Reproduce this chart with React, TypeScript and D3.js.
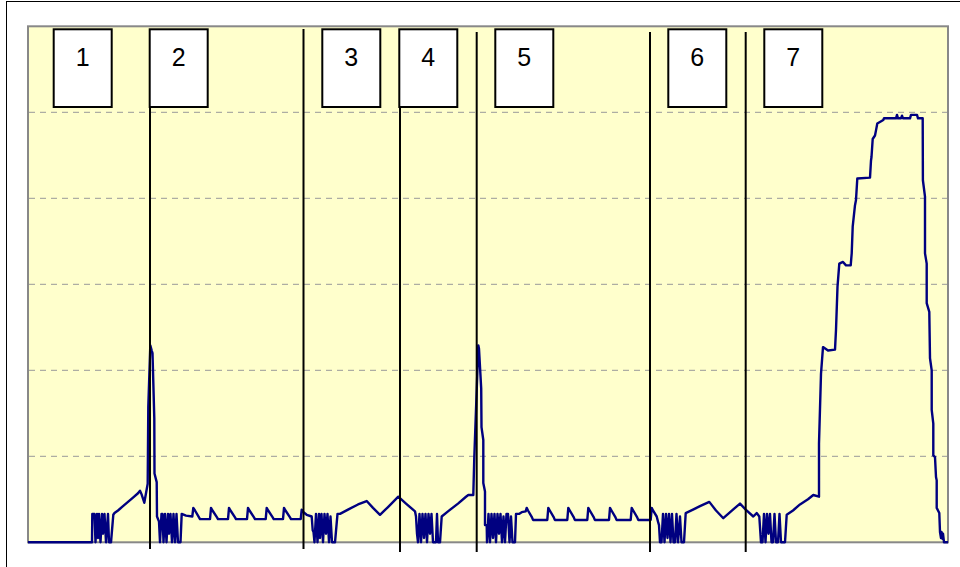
import React from "react";
import * as d3 from "d3";

// time (s) , value (grid units)
const startAndFirstPeak: [number, number][] = [
  [0, 0], [64, 0], [64.3, 0.33], [66.5, 0.33], [67.5, 0], [69, 0.33], [70, 0.05], [71, 0.33], [72.5, 0],
  [74, 0.33], [75, 0.1], [76.5, 0.33], [78, 0], [80, 0.33], [81, 0], [83, 0], [85.3, 0.32],
  [86.5, 0.34], [90, 0.37], [95, 0.42], [100, 0.47], [105, 0.52], [110, 0.57], [112, 0.6], [113.5, 0.56],
  [116.3, 0.46], [119.7, 0.68], [120.3, 1.58], [122.3, 2.29], [123.7, 2.23], [124.5, 2.2], [126.3, 1.44],
  [126.5, 0.8], [128.7, 0.7], [129, 0.3], [131, 0.24],
];

const phase2Data: [number, number][] = [
  [132, 0], [133.5, 0.33], [134.5, 0.33], [135.5, 0], [137, 0.33], [138.5, 0], [140, 0.33], [141, 0.1],
  [142.5, 0.33], [144, 0], [145.5, 0.33], [147, 0], [148.5, 0.33], [150, 0], [152.5, 0], [153.7, 0.33],
  [158, 0.31], [164.3, 0.3], [165.3, 0.4], [167, 0.37], [171, 0.29], [172, 0.27], [182, 0.27], [183, 0.4],
  [184.5, 0.37], [189, 0.29], [190, 0.27], [200, 0.27], [201, 0.4], [202.5, 0.37], [207, 0.29], [208, 0.27],
  [219, 0.27], [220, 0.4], [221.5, 0.37], [226, 0.29], [227, 0.27], [237.7, 0.27], [238.7, 0.4], [240.2, 0.37],
  [244.7, 0.29], [245.7, 0.27], [255, 0.27], [256, 0.4], [257.5, 0.37], [262, 0.29], [263, 0.27], [272.7, 0.27],
  [273.7, 0.38], [275.5, 0.35], [278.7, 0.32], [283.7, 0.3], [284.7, 0.14],
];

const phase3and4Data: [number, number][] = [
  [285.5, 0.12], [286.5, 0], [288, 0.33], [289.5, 0], [291, 0.33], [292, 0.05], [293.5, 0.33], [295, 0],
  [296.5, 0.33], [298, 0.1], [299.5, 0.33], [301, 0], [302.5, 0.3], [304, 0], [307, 0], [309.5, 0.33],
  [312, 0.33],
  [320, 0.38], [330, 0.44], [338.7, 0.48], [345, 0.4], [352, 0.32], [360, 0.41], [370.3, 0.53], [378, 0.45],
  [387, 0.36],
  [388, 0.3], [389, 0.1], [390, 0], [391.5, 0.33], [393, 0], [394.5, 0.33], [396, 0.05], [397.5, 0.33],
  [399, 0], [400.5, 0.33], [402, 0.1], [403.5, 0.33], [405, 0], [408, 0], [409, 0.33], [410, 0], [412, 0],
  [413.7, 0.3],
  [420, 0.36], [430, 0.45], [438, 0.53], [440.3, 0.55], [445.3, 0.55], [446.3, 0.99], [450.3, 2.29],
  [451, 2.25], [453.2, 1.79], [453.5, 1.34], [455.3, 1.19], [455.3, 0.69], [457, 0.59], [457, 0.2], [458.7, 0.2],
];

const phase5Data: [number, number][] = [
  [459, 0], [460.5, 0.33], [462, 0], [463.5, 0.33], [465, 0.05], [466.5, 0.33], [468, 0], [469.5, 0.33],
  [471, 0.1], [472.5, 0.33], [474, 0], [475.5, 0.3], [477, 0], [478.5, 0.33], [480, 0.33], [481.5, 0],
  [483, 0.3], [484.5, 0], [487, 0], [488, 0.33], [491, 0.33], [493.7, 0.35],
  [497.7, 0.36], [498.7, 0.4], [500, 0.37], [504, 0.29], [505, 0.26], [519.3, 0.26], [520.3, 0.4], [521.8, 0.37],
  [525.8, 0.29], [526.8, 0.26], [539.3, 0.26], [540.3, 0.4], [541.8, 0.37], [545.8, 0.29], [546.8, 0.26],
  [559.3, 0.26], [560.3, 0.4], [561.8, 0.37], [565.8, 0.29], [566.8, 0.26], [581, 0.26], [582, 0.4],
  [583.5, 0.37], [587.5, 0.29], [588.5, 0.26], [602.7, 0.26], [603.7, 0.4], [605.2, 0.37], [609.2, 0.29],
  [610.2, 0.26], [622.7, 0.26], [623.7, 0.4], [625, 0.37], [628.7, 0.3], [630, 0.24],
];

const phase6and7Data: [number, number][] = [
  [631, 0.2], [632, 0], [633.5, 0], [635, 0.33], [636.5, 0], [638, 0.33], [639.5, 0.05], [641, 0.33],
  [642.5, 0], [644, 0.33], [645.5, 0], [647, 0], [648.5, 0.33], [650, 0], [652, 0.3], [653.5, 0], [656, 0],
  [657.7, 0.34],
  [665, 0.38], [672, 0.42], [681.3, 0.47], [688, 0.37], [695.3, 0.28], [703, 0.36], [712, 0.45],
  [717.7, 0.38], [725.3, 0.3], [728.7, 0.34], [731.3, 0.3],
  [733, 0], [734.5, 0], [736, 0.33], [737.5, 0], [739, 0.33], [740.5, 0.1], [742, 0.33], [743.5, 0],
  [745, 0], [746.5, 0.33], [748, 0], [750, 0], [751.5, 0.33], [753, 0], [757, 0], [758.7, 0.32],
  [765, 0.37], [772, 0.44], [780, 0.5], [785.3, 0.55], [791, 0.53], [791, 1.15], [793, 1.96], [795, 2.27],
  [800, 2.23], [807, 2.24], [808, 2.47], [809.5, 2.97], [811.3, 3.24], [815, 3.26], [818, 3.22],
  [822.7, 3.22], [823.7, 3.36], [824.7, 3.67], [827, 3.92], [828, 3.98], [829.3, 4.23], [842, 4.24],
  [843, 4.44], [843.5, 4.48], [844.7, 4.69], [847, 4.73], [848, 4.79], [849.3, 4.87], [855.3, 4.91],
  [856, 4.93], [868, 4.93], [869, 4.97], [870, 4.93], [873, 4.93], [874, 4.96], [875, 4.93], [882, 4.93],
  [883, 4.97], [889, 4.97], [890, 4.93], [894.7, 4.93],
  [894.9, 4.21], [897, 4.02], [897, 3.36], [898.7, 3.24], [898.7, 2.78], [901.3, 2.68], [902, 2.14],
  [903.7, 2.0], [903.7, 1.54], [905.3, 1.38], [905.3, 1.01], [907, 0.99], [908, 0.76], [908.7, 0.72],
  [908.7, 0.4], [911.3, 0.34], [912, 0.12], [913, 0.05], [913.5, 0.12], [914.5, 0.04], [915, 0.1],
  [916, 0], [920, 0],
];

const gridValues = [1, 2, 3, 4, 5];
const markerTimes = [122, 275.5, 372, 448.7, 622, 717.7];
const labelNames = ["1", "2", "3", "4", "5", "6", "7"];
const labelTimes = [54.7, 150.7, 323.3, 400.3, 496.3, 669.3, 765.3];

export default function App() {
  const W = 960;
  const H = 567;
  const left = 28;
  const right = 948;
  const top = 26.3;
  const bottom = 542.3;

  const x = d3.scaleLinear().domain([0, 920]).range([left, right]);
  const y = d3.scaleLinear().domain([0, 6]).range([bottom, top]);

  const series = [
    ...startAndFirstPeak,
    ...phase2Data,
    ...phase3and4Data,
    ...phase5Data,
    ...phase6and7Data,
  ];
  const line = d3
    .line<[number, number]>()
    .x((d) => x(d[0]))
    .y((d) => y(d[1]));

  const boxW = 58;
  const boxTop = 29.3;
  const boxH = 77.7;

  return (
    <svg
      width={W}
      height={H}
      style={{ position: "absolute", left: 0, top: 0, background: "#fff" }}
      xmlns="http://www.w3.org/2000/svg"
    >
      <rect x={0} y={0} width={W} height={H} fill="#ffffff" />
      <rect x={6.5} y={1.5} width={1000} height={1000} fill="none" stroke="#000" strokeWidth={1} />
      <rect
        x={left}
        y={top}
        width={right - left}
        height={bottom - top}
        fill="#FFFFCC"
        stroke="#888888"
        strokeWidth={2}
      />
      {gridValues.map((g) => (
        <line
          key={g}
          x1={left + 1}
          x2={right - 1}
          y1={y(g)}
          y2={y(g)}
          stroke="#999999"
          strokeWidth={1}
          strokeDasharray="6,5"
        />
      ))}
      <path d={line(series) || ""} fill="none" stroke="#000080" strokeWidth={2.4} strokeLinejoin="round" />
      {markerTimes.map((t, i) => (
        <line
          key={i}
          x1={x(t)}
          x2={x(t)}
          y1={i < 3 ? 29 : 32}
          y2={i < 2 ? 549 : 552}
          stroke="#000"
          strokeWidth={2}
        />
      ))}
      {labelNames.map((name, i) => (
        <g key={name}>
          <rect
            x={x(labelTimes[i]) - boxW / 2}
            y={boxTop}
            width={boxW}
            height={boxH}
            fill="#fff"
            stroke="#000"
            strokeWidth={2}
          />
          <text
            x={x(labelTimes[i])}
            y={65.7}
            textAnchor="middle"
            fontFamily="'Liberation Sans', Arial, sans-serif"
            fontSize={25}
            fill="#000"
          >
            {name}
          </text>
        </g>
      ))}
    </svg>
  );
}
